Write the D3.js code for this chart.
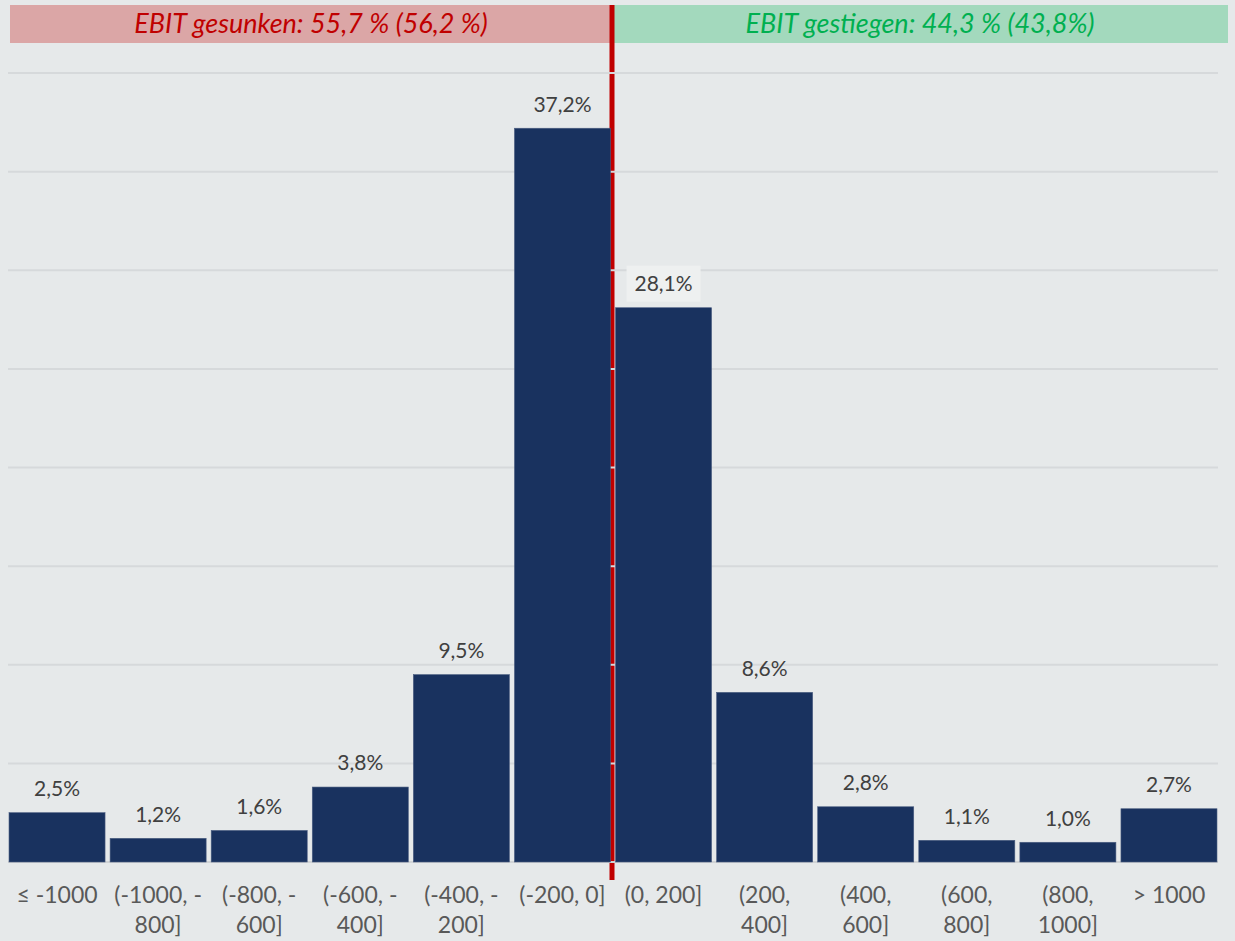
<!DOCTYPE html>
<html>
<head>
<meta charset="utf-8">
<script src="https://cdn.jsdelivr.net/npm/d3@7"></script>
<style>
  html, body { margin: 0; padding: 0; background: #e6e9ea; }
  svg { display: block; }
</style>
</head>
<body>
<svg id="chart" width="1235" height="941"></svg>
<script>
// EBIT change buckets (in thousand EUR) and share of companies per bucket
const categories = [
  ["≤ -1000"], ["(-1000, -", "800]"], ["(-800, -", "600]"], ["(-600, -", "400]"],
  ["(-400, -", "200]"], ["(-200, 0]"], ["(0, 200]"], ["(200,", "400]"],
  ["(400,", "600]"], ["(600,", "800]"], ["(800,", "1000]"], ["> 1000"]
];
const shares = [2.5, 1.2, 1.6, 3.8, 9.5, 37.2, 28.1, 8.6, 2.8, 1.1, 1.0, 2.7];
const yTicks = [0, 5, 10, 15, 20, 25, 30, 35, 40];
const headerLeft = "EBIT gesunken: 55,7 % (56,2 %)";
const headerRight = "EBIT gestiegen: 44,3 % (43,8%)";
const boxedLabels = [6];

const fmt = v => d3.format(".1f")(v).replace(".", ",") + "%";
const svg = d3.select("#chart");
const font = "'Lato', 'Open Sans', sans-serif";

const plotLeft = 8, plotRight = 1218, plotTop = 73, plotBottom = 862;
const keys = categories.map((c, i) => i);
const x = d3.scaleBand().domain(keys).range([plotLeft, plotRight]).paddingInner(0.05).paddingOuter(0.01);
const y = d3.scaleLinear().domain([0, 40]).range([plotBottom, plotTop]);

const splitX = (x(5) + x.bandwidth() + x(6)) / 2 - 1;

// header bands
svg.append("rect").attr("x", 10).attr("y", 5).attr("width", splitX - 10).attr("height", 38).attr("fill", "#dba6a6");
svg.append("rect").attr("x", splitX).attr("y", 5).attr("width", 1228 - splitX).attr("height", 38).attr("fill", "#a3d9bd");
svg.append("text").attr("x", (10 + splitX) / 2).attr("y", 24).attr("dy", "0.35em")
  .attr("text-anchor", "middle").attr("font-family", font).attr("font-style", "italic")
  .attr("font-size", 27).attr("fill", "#c00000").text(headerLeft);
svg.append("text").attr("x", (splitX + 1228) / 2).attr("y", 24).attr("dy", "0.35em")
  .attr("text-anchor", "middle").attr("font-family", font).attr("font-style", "italic")
  .attr("font-size", 27).attr("fill", "#00b050").text(headerRight);

// divider between decreased and increased EBIT
svg.append("line").attr("x1", splitX).attr("x2", splitX).attr("y1", 5).attr("y2", 880)
  .attr("stroke", "#c00000").attr("stroke-width", 5);

// gridlines
svg.append("g").selectAll("line").data(yTicks).join("line")
  .attr("x1", plotLeft).attr("x2", plotRight)
  .attr("y1", d => y(d)).attr("y2", d => y(d))
  .attr("stroke", d => d === 0 ? "#d0d3d5" : "#d6d9db").attr("stroke-width", 2);

// bars
svg.append("g").selectAll("rect").data(shares).join("rect")
  .attr("x", (d, i) => x(i)).attr("width", x.bandwidth())
  .attr("y", d => y(d)).attr("height", d => y(0) - y(d))
  .attr("fill", "#19325f").attr("stroke", "#4a5d80").attr("stroke-width", 0.6);

// value labels
const lab = svg.append("g");
shares.forEach((d, i) => {
  const cx = x(i) + x.bandwidth() / 2, cy = y(d) - 24;
  if (boxedLabels.includes(i)) {
    lab.append("rect").attr("x", cx - 37).attr("y", cy - 18).attr("width", 74).attr("height", 36)
      .attr("fill", "#eef0f0");
  }
  lab.append("text").attr("x", cx).attr("y", cy).attr("dy", "0.35em")
    .attr("text-anchor", "middle").attr("font-family", font).attr("font-size", 21)
    .attr("fill", "#404040").text(fmt(d));
});

// category labels
const cat = svg.append("g");
categories.forEach((lines, i) => {
  const t = cat.append("text").attr("x", x(i) + x.bandwidth() / 2).attr("y", 895)
    .attr("text-anchor", "middle").attr("font-family", font).attr("font-size", 23)
    .attr("fill", "#595959");
  lines.forEach((s, j) => {
    t.append("tspan").attr("x", x(i) + x.bandwidth() / 2).attr("dy", j === 0 ? "0.35em" : 30).text(s);
  });
});
</script>
</body>
</html>
